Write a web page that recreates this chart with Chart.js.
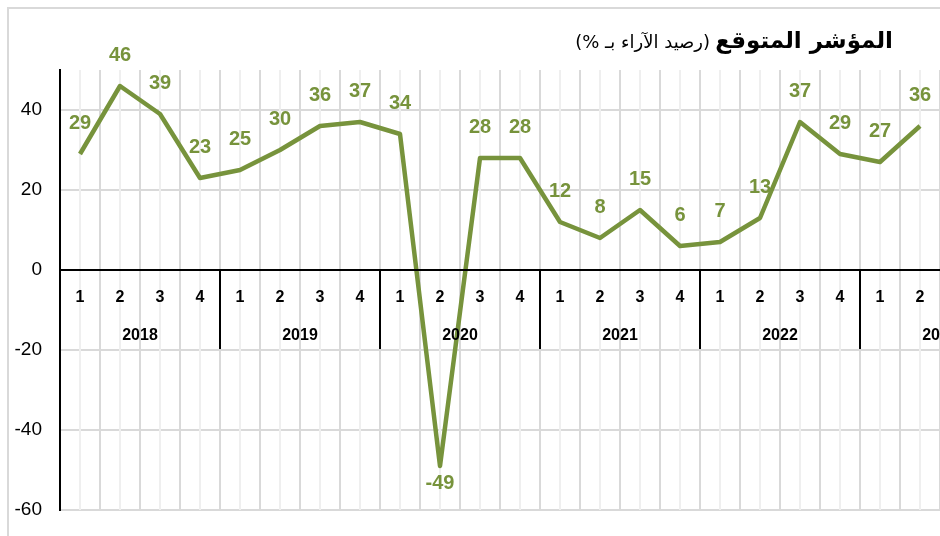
<!DOCTYPE html>
<html>
<head>
<meta charset="utf-8">
<script src="https://cdn.jsdelivr.net/npm/chart.js@4.4.1/dist/chart.umd.min.js"></script>
<style>
    body { margin: 0; background: #fff; }
    #wrap { position: relative; width: 940px; height: 536px; overflow: hidden; }
    #frame { position: absolute; left: 7px; top: 7px; width: 1000px; height: 600px; border: 2px solid #d9d9d9; box-sizing: border-box; }
    #title { position: absolute; right: 47px; top: 27px; direction: rtl; font-family: 'DejaVu Sans', Arial, sans-serif; color: #000; white-space: nowrap; }
    #title b { font-size: 23px; }
    #title span { font-size: 18px; }
    canvas { position: absolute; left: 0; top: 0; }
</style>
</head>
<body>
<div id="wrap">
    <div id="frame"></div>
    <canvas id="chart"></canvas>
    <div id="title"><b>المؤشر المتوقع</b> <span>(رصيد الآراء بـ %)</span></div>
</div>
<script>
const quarters = ['1','2','3','4','1','2','3','4','1','2','3','4','1','2','3','4','1','2','3','4','1','2'];
const years = ['2018', '2019', '2020', '2021', '2022', '2023'];
const values = [29, 46, 39, 23, 25, 30, 36, 37, 34, -49, 28, 28, 12, 8, 15, 6, 7, 13, 37, 29, 27, 36];
const yTicks = [-60, -40, -20, 0, 20, 40];

const green = '#77933c';

// grille verticale, axe à zéro, étiquettes à deux niveaux, valeurs
const decor = {
    id: 'decor',
    beforeDatasetsDraw(chart) {
        const { ctx, chartArea, scales: { x, y } } = chart;
        const half = (x.getPixelForValue(1) - x.getPixelForValue(0)) / 2;
        ctx.save();
        ctx.lineWidth = 2;
        quarters.forEach((q, i) => {
            const cx = x.getPixelForValue(i);
            ctx.strokeStyle = '#efefef';
            ctx.beginPath();
            ctx.moveTo(cx, chartArea.top);
            ctx.lineTo(cx, chartArea.bottom);
            ctx.stroke();
            ctx.strokeStyle = '#d9d9d9';
            ctx.beginPath();
            ctx.moveTo(cx + half, chartArea.top);
            ctx.lineTo(cx + half, chartArea.bottom);
            ctx.stroke();
        });
        ctx.restore();
    },
    afterDatasetsDraw(chart) {
        const { ctx, chartArea, scales: { x, y } } = chart;
        const half = (x.getPixelForValue(1) - x.getPixelForValue(0)) / 2;
        const y0 = y.getPixelForValue(0);
        ctx.save();
        // axe horizontal à zéro
        ctx.strokeStyle = '#000';
        ctx.lineWidth = 2;
        ctx.beginPath();
        ctx.moveTo(chartArea.left, y0);
        ctx.lineTo(chartArea.right + 200, y0);
        ctx.stroke();

        ctx.fillStyle = '#000';
        ctx.font = 'bold 16px "Liberation Sans", Arial, sans-serif';
        ctx.textAlign = 'center';
        ctx.textBaseline = 'middle';
        quarters.forEach((q, i) => {
            ctx.fillText(q, x.getPixelForValue(i), y0 + 28);
        });
        years.forEach((yr, k) => {
            const left = x.getPixelForValue(k * 4) - half;
            const right = left + 8 * half;
            ctx.fillText(yr, (left + right) / 2, y0 + 66);
            ctx.beginPath();
            ctx.moveTo(right, y0);
            ctx.lineTo(right, y0 + 79);
            ctx.stroke();
        });

        // étiquettes des valeurs
        ctx.fillStyle = green;
        ctx.font = 'bold 20px "Liberation Sans", Arial, sans-serif';
        values.forEach((v, i) => {
            const px = x.getPixelForValue(i);
            const py = y.getPixelForValue(v);
            ctx.fillText(String(v), px, v < 0 ? py + 17 : py - 31);
        });
        ctx.restore();
    }
};

const ctx = document.getElementById('chart').getContext('2d');
document.getElementById('chart').width = 940;
document.getElementById('chart').height = 536;

new Chart(ctx, {
    type: 'line',
    data: {
        labels: quarters,
        datasets: [{
            data: values,
            borderColor: green,
            borderWidth: 4.5,
            borderJoinStyle: 'round',
            pointRadius: 0,
            tension: 0,
            fill: false,
            clip: false
        }]
    },
    options: {
        responsive: false,
        animation: false,
        layout: { padding: { top: 70, bottom: 26, left: 0, right: 0 } },
        plugins: { legend: { display: false }, tooltip: { enabled: false } },
        scales: {
            x: {
                display: false,
                offset: true
            },
            y: {
                min: -60,
                max: 50,
                afterBuildTicks: (scale) => { scale.ticks = yTicks.map(v => ({ value: v })); },
                afterFit: (scale) => { scale.width = 60; },
                grid: { color: '#d9d9d9', lineWidth: 2, drawTicks: true, tickLength: 14, tickColor: 'rgba(0,0,0,0)' },
                border: { color: '#000', width: 2 },
                ticks: {
                    color: '#000',
                    padding: 4,
                    font: { family: '"Liberation Sans", Arial, sans-serif', size: 19 }
                }
            }
        }
    },
    plugins: [decor]
});
</script>
</body>
</html>
